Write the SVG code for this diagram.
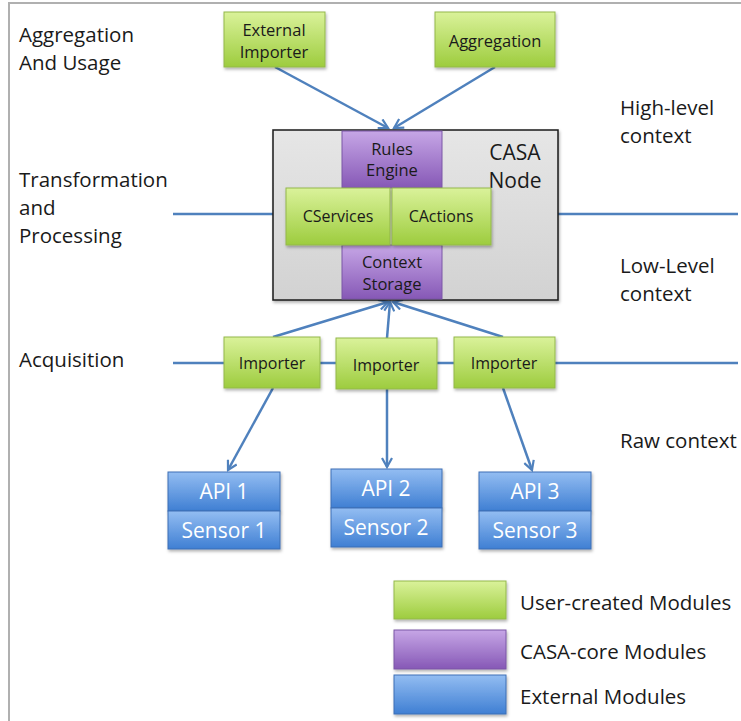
<svg xmlns="http://www.w3.org/2000/svg" width="741" height="721" viewBox="0 0 741 721">
<defs>
<linearGradient id="gGreen" x1="0" y1="0" x2="0" y2="1"><stop offset="0" stop-color="#daf29a"/><stop offset="1" stop-color="#9dcc3e"/></linearGradient>
<linearGradient id="gPurple" x1="0" y1="0" x2="0" y2="1"><stop offset="0" stop-color="#c6a6e6"/><stop offset="1" stop-color="#8658b6"/></linearGradient>
<linearGradient id="gBlue" x1="0" y1="0" x2="0" y2="1"><stop offset="0" stop-color="#93bdf2"/><stop offset="1" stop-color="#3f7fd3"/></linearGradient>
<linearGradient id="gGray" x1="0" y1="0" x2="0" y2="1"><stop offset="0" stop-color="#e6e6e6"/><stop offset="1" stop-color="#d2d2d2"/></linearGradient>
<filter id="sh" x="-10%" y="-10%" width="130%" height="140%"><feDropShadow dx="1" dy="2" stdDeviation="1.5" flood-color="#000" flood-opacity="0.3"/></filter>
<marker id="arr" viewBox="0 0 12 12" refX="10" refY="6" markerWidth="12" markerHeight="12" markerUnits="userSpaceOnUse" orient="auto">
<path d="M1,1 L10,6 L1,11" fill="none" stroke="#4f81bd" stroke-width="2.2"/>
</marker>
<style>
.g{fill:url(#gGreen);stroke:#93b84a;stroke-width:1;filter:url(#sh)}
.p{fill:url(#gPurple);stroke:#7a56a6;stroke-width:1}
.b{fill:url(#gBlue);stroke:#3d6fb5;stroke-width:1;filter:url(#sh)}
.c{stroke:#4f81bd;stroke-width:2.5;fill:none}
.a{stroke:#4f81bd;stroke-width:2.5;fill:none;marker-end:url(#arr)}
text{font-family:"Open Sans","Liberation Sans",sans-serif;fill:#1a1a1a}
.t{font-size:16.5px;text-anchor:middle}
.lbl{font-size:20.5px}
.w{fill:#ffffff;font-size:21px;text-anchor:middle}
</style>
</defs>
<rect x="0" y="0" width="741" height="721" fill="#ffffff"/>
<path d="M9,721 V3 H741" fill="none" stroke="#b0b0b0" stroke-width="2"/>

<g id="labels">
<text class="lbl" x="19" y="42">Aggregation</text>
<text class="lbl" x="19" y="70">And Usage</text>
<text class="lbl" x="19" y="187">Transformation</text>
<text class="lbl" x="19" y="215">and</text>
<text class="lbl" x="19" y="243">Processing</text>
<text class="lbl" x="19" y="367">Acquisition</text>
<text class="lbl" x="620" y="115">High-level</text>
<text class="lbl" x="620" y="143">context</text>
<text class="lbl" x="620" y="273">Low-Level</text>
<text class="lbl" x="620" y="301">context</text>
<text class="lbl" x="620" y="448">Raw context</text>
</g>

<g id="connectors">
<line class="c" x1="173" y1="214" x2="288" y2="214"/>
<line class="c" x1="490" y1="214" x2="738" y2="214"/>
<line class="c" x1="173" y1="363" x2="738" y2="363"/>
<line class="a" x1="275" y1="67" x2="388" y2="128"/>
<line class="a" x1="495" y1="67" x2="394" y2="128"/>
<line class="a" x1="273" y1="337" x2="388" y2="302"/>
<line class="a" x1="387" y1="338" x2="390" y2="302"/>
<line class="a" x1="503" y1="337" x2="393" y2="302"/>
<line class="a" x1="273" y1="388" x2="228" y2="470"/>
<line class="a" x1="387" y1="389" x2="387" y2="467"/>
<line class="a" x1="503" y1="388" x2="532" y2="470"/>
</g>

<g id="casa-node">
<rect x="273" y="130" width="285" height="170" fill="url(#gGray)" stroke="#1a1a1a" stroke-width="1.5" filter="url(#sh)"/>
<text x="515" y="160" style="font-size:21px;text-anchor:middle">CASA</text>
<text x="515" y="188" style="font-size:21px;text-anchor:middle">Node</text>
</g>
<g id="rules-engine">
<rect class="p" x="342" y="131" width="100" height="57"/>
<text class="t" x="392" y="155">Rules</text>
<text class="t" x="392" y="176">Engine</text>
</g>
<g id="context-storage">
<rect class="p" x="342" y="245" width="100" height="54"/>
<text class="t" x="392" y="268">Context</text>
<text class="t" x="392" y="290">Storage</text>
</g>
<g id="cservices">
<rect class="g" x="286" y="188" width="104" height="57"/>
<text class="t" x="338" y="222" style="font-size:16px">CServices</text>
</g>
<g id="cactions">
<rect class="g" x="392" y="188" width="99" height="57"/>
<text class="t" x="441" y="222" style="font-size:16px">CActions</text>
</g>

<g id="external-importer">
<rect class="g" x="224" y="12" width="101" height="55"/>
<text class="t" x="274" y="36">External</text>
<text class="t" x="274" y="58">Importer</text>
</g>
<g id="aggregation">
<rect class="g" x="435" y="12" width="120" height="55"/>
<text class="t" x="495" y="47">Aggregation</text>
</g>

<g id="importer-1">
<rect class="g" x="224" y="337" width="96" height="51"/>
<text class="t" x="272" y="369" style="font-size:16px">Importer</text>
</g>
<g id="importer-2">
<rect class="g" x="336" y="338" width="101" height="51"/>
<text class="t" x="386" y="371" style="font-size:16px">Importer</text>
</g>
<g id="importer-3">
<rect class="g" x="454" y="337" width="101" height="51"/>
<text class="t" x="504" y="369" style="font-size:16px">Importer</text>
</g>

<g id="api-1">
<rect class="b" x="168" y="472" width="112" height="39"/>
<rect class="b" x="168" y="511" width="112" height="38"/>
<text class="w" x="224" y="499">API 1</text>
<text class="w" x="224" y="538">Sensor 1</text>
</g>
<g id="api-2">
<rect class="b" x="331" y="469" width="111" height="39"/>
<rect class="b" x="331" y="508" width="111" height="39"/>
<text class="w" x="386" y="496">API 2</text>
<text class="w" x="386" y="535">Sensor 2</text>
</g>
<g id="api-3">
<rect class="b" x="479" y="472" width="112" height="39"/>
<rect class="b" x="479" y="511" width="112" height="38"/>
<text class="w" x="535" y="499">API 3</text>
<text class="w" x="535" y="538">Sensor 3</text>
</g>

<g id="legend">
<rect class="g" x="394" y="581" width="112" height="38"/>
<rect class="p" x="394" y="630" width="112" height="39" filter="url(#sh)"/>
<rect class="b" x="394" y="675" width="112" height="39"/>
<text class="lbl" x="520" y="610">User-created Modules</text>
<text class="lbl" x="520" y="659">CASA-core Modules</text>
<text class="lbl" x="520" y="704">External Modules</text>
</g>
</svg>
